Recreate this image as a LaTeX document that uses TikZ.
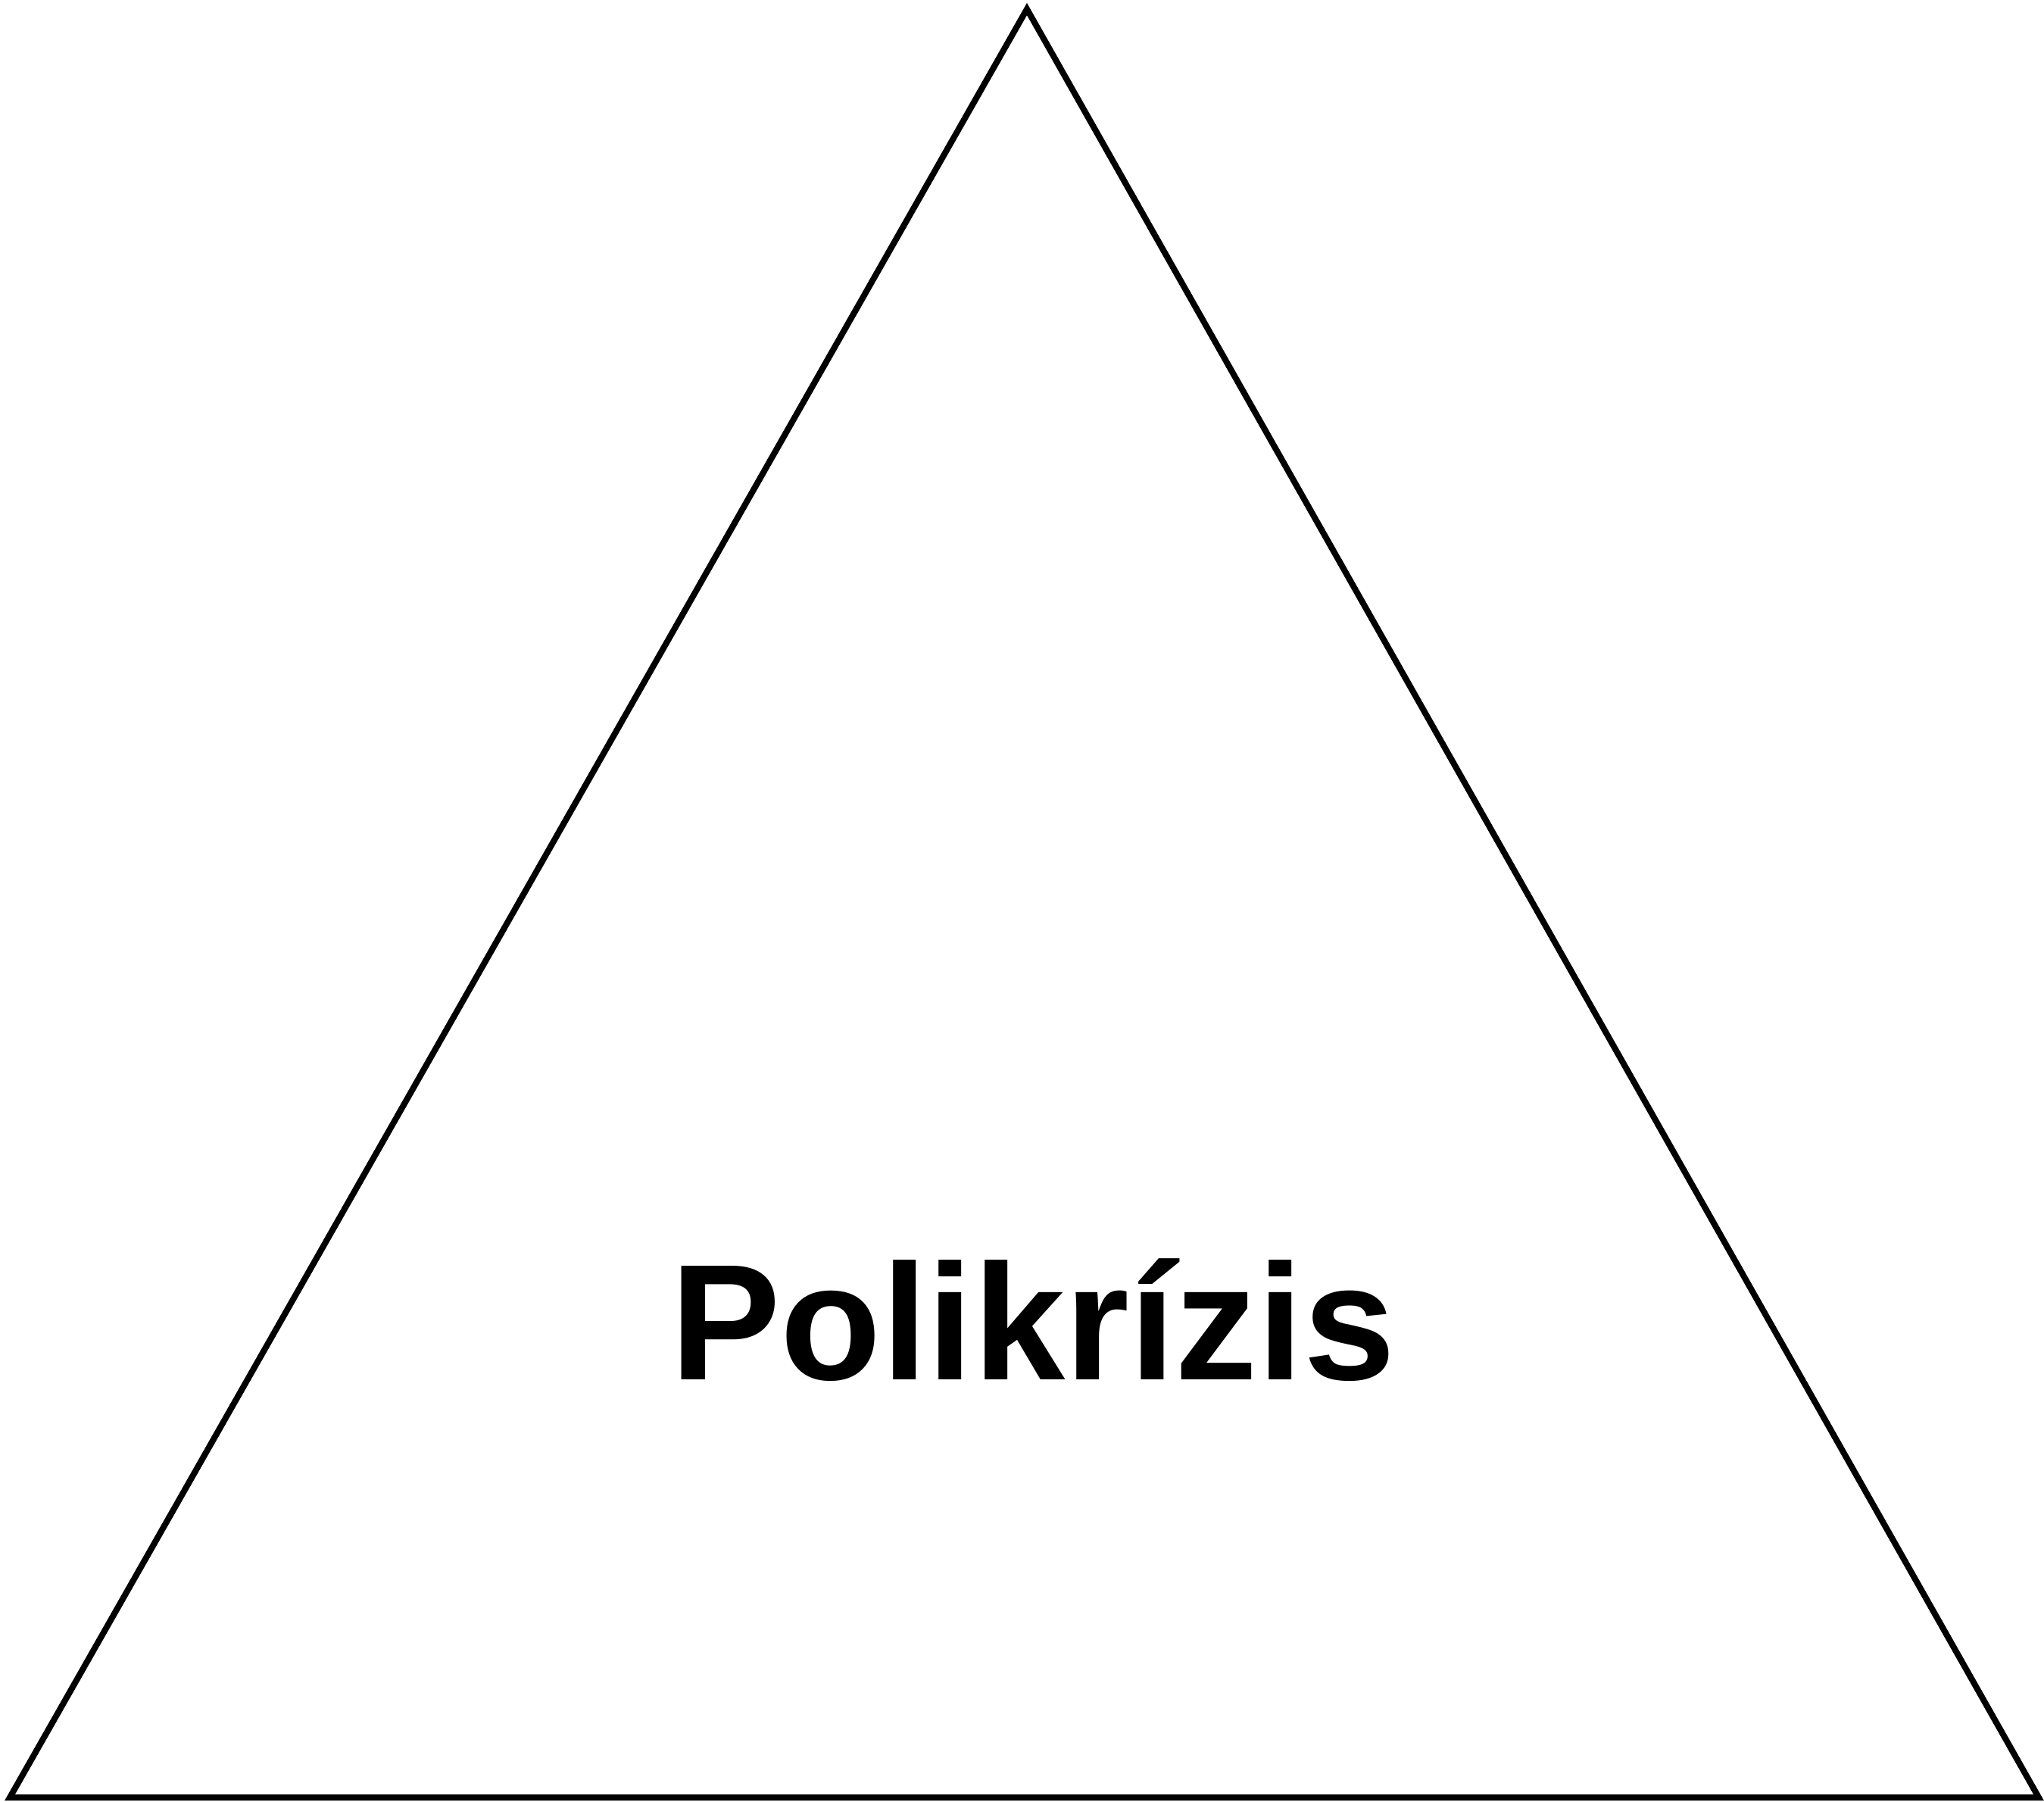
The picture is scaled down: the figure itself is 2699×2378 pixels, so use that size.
\documentclass[tikz,border=0pt]{standalone}
\usepackage{fontspec}
\setmainfont{Liberation Sans}
\begin{document}
\begin{tikzpicture}[x=0.25pt,y=-0.25pt,
  tri/.style={draw=black,line width=2pt,line join=miter},
  lbl/.style={font=\fontsize{54.5pt}{60pt}\selectfont\bfseries,inner sep=0pt,anchor=base}]
\useasboundingbox (0,0) rectangle (2699,2378);
\coordinate (apex) at (1356,12);
\coordinate (bl) at (13,2373);
\coordinate (br) at (2692,2373);
\draw[tri] (apex) -- (bl) -- (br) -- cycle;
\node[lbl] (t) at (1364,1821) {Polikrízis};
\end{tikzpicture}
\end{document}
